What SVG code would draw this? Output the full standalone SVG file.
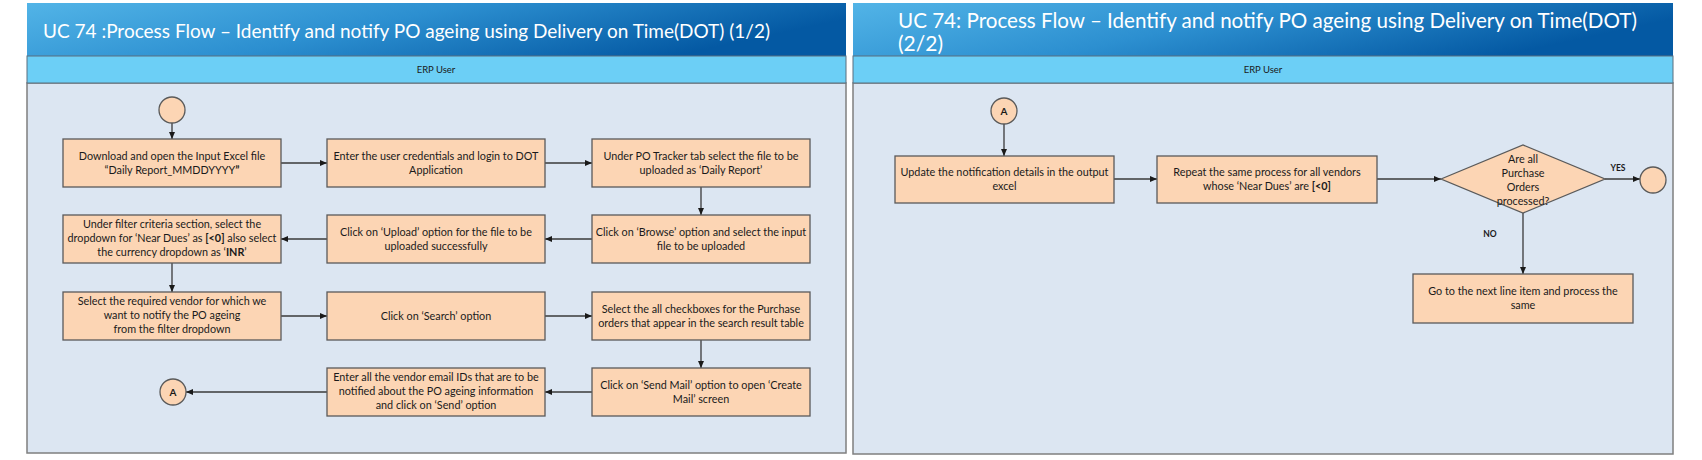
<svg xmlns="http://www.w3.org/2000/svg" width="1702" height="460" viewBox="0 0 1702 460">
<defs>
<linearGradient id="tg" x1="0" y1="0" x2="1" y2="0.3">
<stop offset="0" stop-color="#52B4E7"/>
<stop offset="0.5" stop-color="#2C8FD0"/>
<stop offset="1" stop-color="#0459A3"/>
</linearGradient>
<marker id="ah" markerWidth="7" markerHeight="6" refX="7" refY="3" orient="auto" markerUnits="userSpaceOnUse">
<path d="M0,0 L7,3 L0,6 z" fill="#1a1a1a"/>
</marker>
<style>
.title{font-family:Lato,"Liberation Sans",sans-serif;fill:#ffffff;font-size:20px}
.hdr{fill:#6CCFF6;stroke:#5a6f7f;stroke-width:1}
.hdrt{font-family:Lato,"Liberation Sans",sans-serif;font-size:9.5px;fill:#1a1a1a;text-anchor:middle}
.body{fill:#DCE6F2;stroke:#7f7f7f;stroke-width:1.5}
.box{fill:#FCD5B4;stroke:#5a5a5a;stroke-width:1.3}
.t{font-family:Lato,"Liberation Sans",sans-serif;font-size:10.8px;fill:#1a1a1a;text-anchor:middle}
.b{font-weight:bold}
.lbl{font-family:Lato,"Liberation Sans",sans-serif;font-size:8.5px;font-weight:bold;fill:#1a1a1a;text-anchor:middle}
.c{fill:none;stroke:#3a3a3a;stroke-width:1.3;marker-end:url(#ah)}
</style>
</defs>
<rect width="1702" height="460" fill="#ffffff"/>

<!-- Left panel -->
<g id="panel-left">
<rect x="27" y="83" width="819" height="370" class="body"/>
<rect x="27" y="3" width="819" height="53" fill="url(#tg)"/>
<rect x="27" y="56" width="819" height="27" class="hdr"/>
<text x="43" y="38" class="title" textLength="727" lengthAdjust="spacingAndGlyphs">UC 74 :Process Flow – Identify and notify PO ageing using Delivery on Time(DOT) (1/2)</text>
<text x="436" y="73" class="hdrt">ERP User</text>
</g>

<!-- Right panel -->
<g id="panel-right">
<rect x="853" y="83" width="820" height="371" class="body"/>
<rect x="853" y="3" width="820" height="53" fill="url(#tg)"/>
<rect x="853" y="56" width="820" height="27" class="hdr"/>
<text x="898" y="28" class="title" style="font-size:21px" textLength="739" lengthAdjust="spacingAndGlyphs">UC 74: Process Flow – Identify and notify PO ageing using Delivery on Time(DOT)</text>
<text x="898" y="51" class="title" style="font-size:21px">(2/2)</text>
<text x="1263" y="73" class="hdrt">ERP User</text>
</g>

<!-- Connectors -->
<g id="connectors">
<line x1="172" y1="123" x2="172" y2="139" class="c"/>
<line x1="281" y1="163" x2="327" y2="163" class="c"/>
<line x1="545" y1="163" x2="592" y2="163" class="c"/>
<line x1="701" y1="187" x2="701" y2="215" class="c"/>
<line x1="592" y1="239" x2="545" y2="239" class="c"/>
<line x1="327" y1="239" x2="281" y2="239" class="c"/>
<line x1="172" y1="263" x2="172" y2="292" class="c"/>
<line x1="281" y1="316" x2="327" y2="316" class="c"/>
<line x1="545" y1="316" x2="592" y2="316" class="c"/>
<line x1="701" y1="340" x2="701" y2="368" class="c"/>
<line x1="592" y1="392" x2="545" y2="392" class="c"/>
<line x1="327" y1="392" x2="186" y2="392" class="c"/>
<line x1="1004" y1="124" x2="1004" y2="156" class="c"/>
<line x1="1114" y1="179" x2="1157" y2="179" class="c"/>
<line x1="1377" y1="179" x2="1441" y2="179" class="c"/>
<line x1="1605" y1="179" x2="1640" y2="179" class="c"/>
<line x1="1523" y1="213" x2="1523" y2="274" class="c"/>
</g>

<g id="start"><circle cx="172" cy="110" r="13" class="box"/></g>

<g id="n1"><rect x="63" y="139" width="218" height="48" class="box"/>
<text x="172" y="160" class="t">Download and open the Input Excel file</text>
<text x="172" y="174" class="t">“Daily Report_MMDDYYYY<tspan class="b">”</tspan></text></g>

<g id="n2"><rect x="327" y="139" width="218" height="48" class="box"/>
<text x="436" y="160" class="t">Enter the user credentials and login to DOT</text>
<text x="436" y="174" class="t">Application</text></g>

<g id="n3"><rect x="592" y="139" width="218" height="48" class="box"/>
<text x="701" y="160" class="t">Under PO Tracker tab select the file to be</text>
<text x="701" y="174" class="t">uploaded as ‘Daily Report’</text></g>

<g id="n4"><rect x="63" y="215" width="218" height="48" class="box"/>
<text x="172" y="228" class="t">Under filter criteria section, select the</text>
<text x="172" y="242" class="t">dropdown for ‘Near Dues’ as <tspan class="b">[&lt;0]</tspan> also select</text>
<text x="172" y="256" class="t">the currency dropdown as ‘<tspan class="b">INR</tspan>’</text></g>

<g id="n5"><rect x="327" y="215" width="218" height="48" class="box"/>
<text x="436" y="236" class="t">Click on ‘Upload’ option for the file to be</text>
<text x="436" y="250" class="t">uploaded successfully</text></g>

<g id="n6"><rect x="592" y="215" width="218" height="48" class="box"/>
<text x="701" y="236" class="t">Click on ‘Browse’ option and select the input</text>
<text x="701" y="250" class="t">file to be uploaded</text></g>

<g id="n7"><rect x="63" y="292" width="218" height="48" class="box"/>
<text x="172" y="305" class="t">Select the required vendor for which we</text>
<text x="172" y="319" class="t">want to notify the PO ageing</text>
<text x="172" y="333" class="t">from the filter dropdown</text></g>

<g id="n8"><rect x="327" y="292" width="218" height="48" class="box"/>
<text x="436" y="320" class="t">Click on ‘Search’ option</text></g>

<g id="n9"><rect x="592" y="292" width="218" height="48" class="box"/>
<text x="701" y="313" class="t">Select the all checkboxes for the Purchase</text>
<text x="701" y="327" class="t">orders that appear in the search result table</text></g>

<g id="n10"><rect x="327" y="368" width="218" height="48" class="box"/>
<text x="436" y="381" class="t">Enter all the vendor email IDs that are to be</text>
<text x="436" y="395" class="t">notified about the PO ageing information</text>
<text x="436" y="409" class="t">and click on ‘Send’ option</text></g>

<g id="n11"><rect x="592" y="368" width="218" height="48" class="box"/>
<text x="701" y="389" class="t">Click on ‘Send Mail’ option to open ‘Create</text>
<text x="701" y="403" class="t">Mail’ screen</text></g>

<g id="connA-out"><circle cx="173" cy="392" r="13" class="box"/>
<text x="173" y="396" class="t b" style="font-size:10px">A</text></g>

<!-- Right side nodes -->
<g id="connA-in"><circle cx="1004" cy="111" r="13" class="box"/>
<text x="1004" y="115" class="t b" style="font-size:10px">A</text></g>

<g id="r1"><rect x="895" y="156" width="219" height="47" class="box"/>
<text x="1004.5" y="176" class="t">Update the notification details in the output</text>
<text x="1004.5" y="190" class="t">excel</text></g>

<g id="r2"><rect x="1157" y="156" width="220" height="47" class="box"/>
<text x="1267" y="176" class="t">Repeat the same process for all vendors</text>
<text x="1267" y="190" class="t">whose ‘Near Dues’ are <tspan class="b">[&lt;0]</tspan></text></g>

<g id="decision"><polygon points="1441,179 1523,145 1605,179 1523,213" class="box"/>
<text x="1523" y="163" class="t">Are all</text>
<text x="1523" y="177" class="t">Purchase</text>
<text x="1523" y="191" class="t">Orders</text>
<text x="1523" y="205" class="t">processed?</text></g>

<g id="end"><circle cx="1653" cy="180" r="13" class="box"/></g>

<g id="labels">
<text x="1618" y="171" class="lbl">YES</text>
<text x="1490" y="237" class="lbl">NO</text>
</g>

<g id="r3"><rect x="1413" y="274" width="220" height="49" class="box"/>
<text x="1523" y="295" class="t">Go to the next line item and process the</text>
<text x="1523" y="309" class="t">same</text></g>
</svg>
